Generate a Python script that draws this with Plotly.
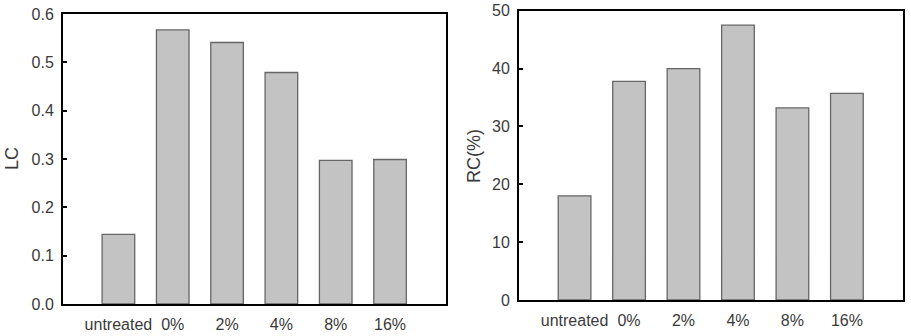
import plotly.graph_objects as go

categories = ["untreated", "0%", "2%", "4%", "8%", "16%"]
lc_values = [0.144, 0.567, 0.541, 0.479, 0.297, 0.299]
rc_values = [18.0, 37.8, 40.0, 47.5, 33.2, 35.7]
lc_ticks = [0.0, 0.1, 0.2, 0.3, 0.4, 0.5, 0.6]
lc_ticktext = ["0.0", "0.1", "0.2", "0.3", "0.4", "0.5", "0.6"]
rc_ticks = [0, 10, 20, 30, 40, 50]

W, H = 911, 336
FONT = "Liberation Sans, Arial, sans-serif"
TXT = "#3a3a3a"
BAR_FILL = "#c3c3c3"
BAR_LINE = "#666666"

fig = go.Figure()
xs = list(range(len(categories)))
fig.add_trace(go.Bar(x=xs, y=lc_values, width=0.6, xaxis="x", yaxis="y",
                     marker=dict(color=BAR_FILL, line=dict(color=BAR_LINE, width=1.3)),
                     showlegend=False))
fig.add_trace(go.Bar(x=xs, y=rc_values, width=0.6, xaxis="x2", yaxis="y2",
                     marker=dict(color=BAR_FILL, line=dict(color=BAR_LINE, width=1.3)),
                     showlegend=False))

def xaxis_cfg(domain):
    return dict(domain=domain, range=[-1.02, 6.03], tickmode="array", tickvals=xs,
                ticktext=categories, ticks="", showgrid=False, zeroline=False,
                showline=True, linecolor="black", linewidth=2, mirror=True,
                tickfont=dict(family=FONT, size=16, color=TXT), ticklabelstandoff=5,
                automargin=False, fixedrange=True)

def yaxis_cfg(domain, rng, tickvals, ticktext, anchor):
    return dict(domain=domain, range=rng, tickmode="array", tickvals=tickvals,
                ticktext=ticktext, ticks="inside", ticklen=4, tickwidth=1.5,
                tickcolor="black", showgrid=False, zeroline=False,
                showline=True, linecolor="black", linewidth=2, mirror=True,
                tickfont=dict(family=FONT, size=16, color=TXT), ticklabelstandoff=4,
                anchor=anchor, automargin=False, fixedrange=True)

fig.update_layout(
    width=W, height=H,
    margin=dict(l=0, r=0, t=0, b=0, autoexpand=False),
    paper_bgcolor="white", plot_bgcolor="white",
    xaxis=dict(xaxis_cfg([63 / W, 446 / W]), anchor="y"),
    yaxis=yaxis_cfg([32 / H, 322 / H], [0, 0.6], lc_ticks, lc_ticktext, "x"),
    xaxis2=dict(xaxis_cfg([519 / W, 903 / W]), anchor="y2"),
    yaxis2=yaxis_cfg([36 / H, 325.3 / H], [0, 50], rc_ticks, [str(t) for t in rc_ticks], "x2"),
    annotations=[
        dict(text="LC", x=12 / W, y=1 - 159 / H, xref="paper", yref="paper",
             textangle=-90, showarrow=False, xanchor="center", yanchor="middle",
             font=dict(family=FONT, size=18, color=TXT)),
        dict(text="RC(%)", x=474 / W, y=1 - 156 / H, xref="paper", yref="paper",
             textangle=-90, showarrow=False, xanchor="center", yanchor="middle",
             font=dict(family=FONT, size=18, color=TXT)),
    ],
)

fig.write_html("out.html")
